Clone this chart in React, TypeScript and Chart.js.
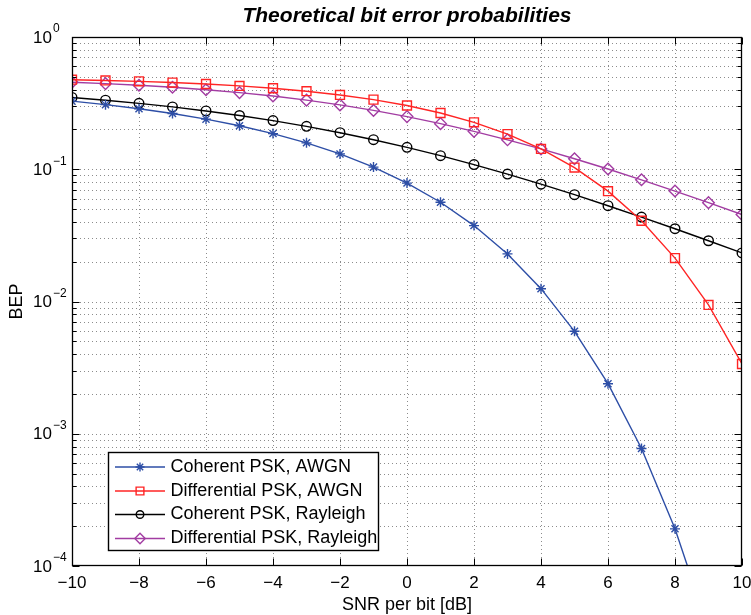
import React, { useEffect, useRef } from 'react';
import { Chart, registerables } from 'chart.js';
import { drawPoint } from 'chart.js/helpers';

Chart.register(...registerables);

// ---- data ----
const snrDb = [-10, -9, -8, -7, -6, -5, -4, -3, -2, -1, 0, 1, 2, 3, 4, 5, 6, 7, 8, 9, 10];
const coherentAwgn = [0.3274, 0.3079, 0.2867, 0.2638, 0.2392, 0.2132, 0.1861, 0.1584, 0.1306, 0.1038, 0.0786, 0.0563, 0.0375, 0.0229, 0.0125, 0.00595, 0.00239, 0.000773, 0.000191, 0.0000336, 0.00000387];
const differentialAwgn = [0.4756, 0.4695, 0.4619, 0.4525, 0.441, 0.4269, 0.4098, 0.3892, 0.3647, 0.3361, 0.3033, 0.2664, 0.2264, 0.1844, 0.1424, 0.1029, 0.0683, 0.0408, 0.0213, 0.00942, 0.00337];
const coherentRayleigh = [0.3492, 0.3328, 0.3151, 0.2961, 0.276, 0.2549, 0.2332, 0.2111, 0.189, 0.1673, 0.1464, 0.1267, 0.1085, 0.0919, 0.0771, 0.0642, 0.053, 0.0435, 0.0355, 0.0288, 0.0233];
const differentialRayleigh = [0.4545, 0.4441, 0.4316, 0.4168, 0.3996, 0.3799, 0.3576, 0.3331, 0.3066, 0.2787, 0.25, 0.2213, 0.1934, 0.1669, 0.1424, 0.1201, 0.1004, 0.0832, 0.0684, 0.0559, 0.04545];
const seriesLabels = ['Coherent PSK, AWGN', 'Differential PSK, AWGN', 'Coherent PSK, Rayleigh', 'Differential PSK, Rayleigh'];
const xTickValues = [-10, -8, -6, -4, -2, 0, 2, 4, 6, 8, 10];
const yDecadeExponents = [-4, -3, -2, -1, 0];
const titleText = 'Theoretical bit error probabilities';
const xTitleText = 'SNR per bit [dB]';
const yTitleText = 'BEP';

// ---- styles ----
const FONT = '"Liberation Sans", Arial, Helvetica, sans-serif';
const seriesStyles = [
  { color: '#2d4ea6', pointStyle: 'star', radius: 5, legendRadius: 4.5 },
  { color: '#ff2424', pointStyle: 'rect', radius: 6.3, legendRadius: 5.5 },
  { color: '#000000', pointStyle: 'circle', radius: 4.8, legendRadius: 3.8 },
  { color: '#a23ca2', pointStyle: 'rectRot', radius: 5.8, legendRadius: 5.2 },
];
const seriesValues = [coherentAwgn, differentialAwgn, coherentRayleigh, differentialRayleigh];

const fmtMinus = (v: number) => (v < 0 ? '\u2212' + Math.abs(v) : String(v));
const fmtExp = (e: number) => (e < 0 ? '\u2212' + Math.abs(e) : String(e));

const matlabPlugin = {
  id: 'matlabDecor',
  beforeDatasetsDraw(chart: any) {
    const { ctx, chartArea: a, scales } = chart;
    const x = scales.x;
    const y = scales.y;
    ctx.save();
    ctx.strokeStyle = '#8c8c8c';
    ctx.lineWidth = 1;
    ctx.setLineDash([1, 3]);
    for (const v of xTickValues) {
      const px = Math.round(x.getPixelForValue(v)) + 0.5;
      if (px <= a.left + 1 || px >= a.right - 1) continue;
      ctx.beginPath();
      ctx.moveTo(px, a.top);
      ctx.lineTo(px, a.bottom);
      ctx.stroke();
    }
    for (const e of yDecadeExponents) {
      for (let m = 1; m <= 9; m++) {
        const v = m * Math.pow(10, e);
        if (v > 1.0001) continue;
        const py = Math.round(y.getPixelForValue(v)) + 0.5;
        if (py <= a.top + 1 || py >= a.bottom - 1) continue;
        ctx.beginPath();
        ctx.moveTo(a.left, py);
        ctx.lineTo(a.right, py);
        ctx.stroke();
      }
    }
    ctx.restore();
  },
  afterDatasetsDraw(chart: any) {
    const { ctx, chartArea: a, scales } = chart;
    const x = scales.x;
    const y = scales.y;
    ctx.save();
    ctx.setLineDash([]);
    ctx.strokeStyle = '#000';
    ctx.fillStyle = '#000';
    ctx.lineWidth = 1;
    const L = Math.round(a.left) + 0.5;
    const R = Math.round(a.right) - 0.5;
    const T = Math.round(a.top) + 0.5;
    const B = Math.round(a.bottom) - 0.5;

    // inward ticks
    ctx.beginPath();
    for (const v of xTickValues) {
      const px = Math.round(x.getPixelForValue(v)) + 0.5;
      ctx.moveTo(px, B);
      ctx.lineTo(px, B - 7);
      ctx.moveTo(px, T);
      ctx.lineTo(px, T + 7);
    }
    for (const e of yDecadeExponents) {
      for (let m = 1; m <= 9; m++) {
        const v = m * Math.pow(10, e);
        if (v > 1.0001) continue;
        const py = Math.round(y.getPixelForValue(v)) + 0.5;
        const len = m === 1 ? 7 : 4;
        ctx.moveTo(L, py);
        ctx.lineTo(L + len, py);
        ctx.moveTo(R, py);
        ctx.lineTo(R - len, py);
      }
    }
    ctx.stroke();

    // box
    ctx.lineWidth = 1.3;
    ctx.strokeRect(L, T, R - L, B - T);

    // x tick labels
    ctx.font = `17px ${FONT}`;
    ctx.textAlign = 'center';
    ctx.textBaseline = 'middle';
    for (const v of xTickValues) {
      ctx.fillText(fmtMinus(v), x.getPixelForValue(v), 583);
    }

    // y tick labels 10^e
    for (const e of yDecadeExponents) {
      const py = y.getPixelForValue(Math.pow(10, e));
      ctx.font = `17px ${FONT}`;
      ctx.textAlign = 'right';
      ctx.textBaseline = 'middle';
      ctx.fillText('10', 52, py + 1);
      ctx.font = `12px ${FONT}`;
      ctx.textAlign = 'left';
      ctx.fillText(fmtExp(e), 53, py - 8);
    }

    // title
    ctx.font = `italic bold 21px ${FONT}`;
    ctx.textAlign = 'center';
    ctx.textBaseline = 'alphabetic';
    ctx.fillText(titleText, (a.left + a.right) / 2, 21.5);

    // x title
    ctx.font = `18px ${FONT}`;
    ctx.fillText(xTitleText, (a.left + a.right) / 2, 609.5);

    // y title
    ctx.save();
    ctx.translate(17, (a.top + a.bottom) / 2);
    ctx.rotate(-Math.PI / 2);
    ctx.textBaseline = 'middle';
    ctx.textAlign = 'center';
    ctx.fillText(yTitleText, 0, 0);
    ctx.restore();

    // legend
    const bx = 108.5, by = 452.5, bw = 270, bh = 98;
    ctx.fillStyle = '#fff';
    ctx.fillRect(bx, by, bw, bh);
    ctx.strokeStyle = '#000';
    ctx.lineWidth = 1.4;
    ctx.strokeRect(bx, by, bw, bh);
    const rows = [467, 491, 514.5, 538.5];
    seriesLabels.forEach((label, i) => {
      const st = seriesStyles[i];
      const ry = rows[i];
      ctx.strokeStyle = st.color;
      ctx.lineWidth = 1.4;
      ctx.beginPath();
      ctx.moveTo(115, ry);
      ctx.lineTo(165, ry);
      ctx.stroke();
      ctx.fillStyle = 'rgba(0,0,0,0)';
      drawPoint(ctx, { pointStyle: st.pointStyle, radius: st.legendRadius, borderWidth: 1.4, rotation: 0 } as any, 140, ry);
      ctx.fillStyle = '#000';
      ctx.font = `18px ${FONT}`;
      ctx.textAlign = 'left';
      ctx.textBaseline = 'middle';
      ctx.fillText(label, 170.5, ry);
    });
    ctx.restore();
  },
};

export default function App() {
  const canvasRef = useRef<HTMLCanvasElement | null>(null);

  useEffect(() => {
    document.body.style.margin = '0';
    const canvas = canvasRef.current;
    if (!canvas) return;
    const datasets = seriesLabels.map((label, i) => ({
      label,
      data: snrDb.map((s, k) => ({ x: s, y: seriesValues[i][k] })),
      borderColor: seriesStyles[i].color,
      backgroundColor: 'rgba(0,0,0,0)',
      borderWidth: 1.4,
      pointStyle: seriesStyles[i].pointStyle as any,
      pointRadius: seriesStyles[i].radius,
      pointBorderColor: seriesStyles[i].color,
      pointBackgroundColor: 'rgba(0,0,0,0)',
      pointBorderWidth: 1.4,
      tension: 0,
      fill: false,
    }));
    const chart = new Chart(canvas, {
      type: 'line',
      data: { datasets },
      options: {
        animation: false,
        responsive: false,
        devicePixelRatio: 1,
        layout: { padding: { top: 37, right: 9, left: 0, bottom: 0 } },
        plugins: {
          legend: { display: false },
          title: { display: false },
          tooltip: { enabled: false },
        },
        scales: {
          x: {
            type: 'linear',
            min: -10,
            max: 10,
            ticks: { display: false, stepSize: 2 },
            grid: { display: false },
            border: { display: false },
            afterFit(s: any) {
              s.height = 49;
            },
          },
          y: {
            type: 'logarithmic',
            min: 1e-4,
            max: 1,
            ticks: { display: false },
            grid: { display: false },
            border: { display: false },
            afterFit(s: any) {
              s.width = 72;
            },
          },
        },
      } as any,
      plugins: [matlabPlugin],
    });
    return () => chart.destroy();
  }, []);

  return (
    <div style={{ width: 751, height: 615, background: '#fff' }}>
      <canvas ref={canvasRef} width={751} height={615} style={{ display: 'block' }} />
    </div>
  );
}
